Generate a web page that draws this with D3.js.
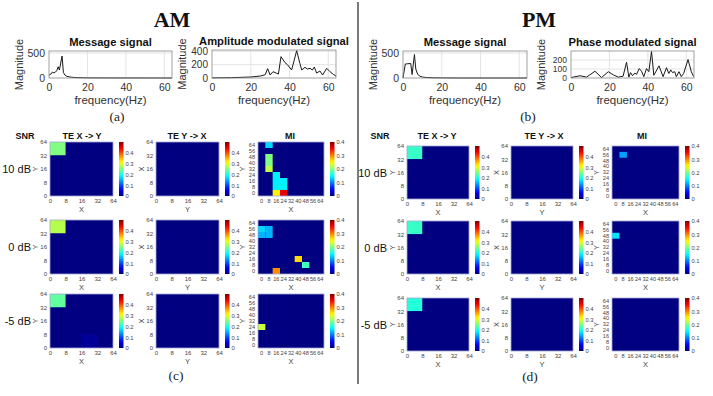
<!DOCTYPE html>
<html>
<head>
<meta charset="utf-8">
<script src="https://d3js.org/d3.v7.min.js"></script>
<style>
  body { margin: 0; background: #fff; }
  svg { display: block; font-family: "Liberation Sans", Arial, sans-serif; }
</style>
</head>
<body>
<svg id="fig" width="713" height="396"></svg>
<script>
// ---- spectra: frequency (Hz) and magnitude ----
const amMsgFreq = [0, 1, 1.8, 2.6, 3.4, 4, 4.8, 5.4, 6.8, 7.5, 8.3, 9.2, 10.5, 12.6, 15, 20, 30, 64];
const amMsgMag  = [55, 80, 120, 100, 120, 145, 225, 160, 440, 110, 60, 35, 22, 12, 7, 3, 1, 0];

const amModFreq = [0, 10, 20, 25, 27.5, 28.7, 30, 31.5, 33.4, 34.3, 35.6, 37.7, 38.9, 41.1, 43.7, 45.4, 46.3, 48, 49.2, 50.6, 51.8, 52.8, 54, 55.7, 57.1, 59.2, 60.9, 62.6, 64];
const amModMag  = [2, 5, 15, 30, 50, 140, 45, 95, 70, 60, 320, 230, 200, 120, 410, 215, 120, 160, 135, 145, 120, 165, 75, 105, 45, 145, 95, 55, 30];

const pmMsgFreq = [0, 1.2, 2.5, 4.0, 4.7, 5.9, 6.6, 7.5, 8.5, 10, 12, 15, 20, 30, 64];
const pmMsgMag  = [0, 280, 285, 290, 70, 470, 180, 80, 40, 20, 10, 5, 2, 0, 0];

const pmModFreq = [0, 4.7, 8.1, 12.5, 15.9, 19.4, 22, 24.6, 27.1, 28.9, 30.1, 31, 32, 33.2, 34.1, 35.5, 36.7, 37.9, 39.3, 40.5, 41.9, 43.1, 45.8, 47.9, 49.7, 50.9, 51.9, 52.8, 54, 54.8, 56.2, 57.4, 58.6, 60.9, 62.6, 63.8];
const pmModMag  = [5, 25, 10, 75, 5, 70, 35, 10, 20, 175, 10, 60, 25, 55, 40, 105, 75, 15, 105, 70, 295, 30, 135, 15, 115, 50, 90, 60, 70, 15, 70, 15, 50, 205, 70, 15];

const freqTicks = [0, 20, 40, 60];
const amMsgTicks = [0, 500];
const amModTicks = [0, 200, 400];
const pmMsgTicks = [0, 500];
const pmModTicks = [0, 100, 200];

const spectrumTitles = ["Message signal", "Amplitude modulated signal", "Message signal", "Phase modulated signal"];

// ---- heatmaps ----
const snrLabels = ["10 dB", "0 dB", "-5 dB"];
const heatTitles = ["TE X -> Y", "TE Y -> X", "MI"];
const teTicks = [0, 8, 16, 32, 64];
const miTicks = [0, 8, 16, 24, 32, 40, 48, 56, 64];
const cbTicks = [0, 0.1, 0.2, 0.3, 0.4];
const teMax = 0.5;
const miMax = 0.4;

// TE grids: rows top -> bottom (Y 32-64, 16-32, 8-16, 0-8), cols X 0-8 .. 32-64
const zeroTE = [[0, 0, 0, 0], [0, 0, 0, 0], [0, 0, 0, 0], [0, 0, 0, 0]];
const amTeXY = [
  [[0.25, 0, 0, 0], [0, 0, 0, 0], [0, 0, 0, 0], [0, 0, 0, 0]],
  [[0.275, 0, 0, 0], [0, 0, 0, 0], [0, 0, 0, 0], [0, 0, 0, 0]],
  [[0.235, 0, 0, 0], [0, 0, 0, 0], [0, 0, 0, 0], [0, 0, 0.012, 0]]
];
const amTeYX = [zeroTE, zeroTE, zeroTE];
const pmTeXY = [
  [[0.215, 0, 0, 0], [0, 0, 0, 0], [0, 0, 0, 0], [0, 0, 0, 0]],
  [[0.215, 0, 0, 0], [0, 0, 0, 0], [0, 0, 0, 0], [0, 0, 0, 0]],
  [[0.205, 0, 0, 0], [0, 0, 0, 0], [0, 0, 0, 0], [0, 0, 0, 0]]
];
const pmTeYX = [zeroTE, zeroTE, zeroTE];

// MI: non-zero cells as [x, y, value]
const amMi = [
  [[8, 64, 0.135], [8, 48, 0.2], [8, 40, 0.2], [8, 32, 0.225], [16, 24, 0.145], [16, 16, 0.145], [16, 8, 0.145],
   [24, 16, 0.145], [24, 8, 0.145], [16, 0, 0.255], [24, 0, 0.36]],
  [[0, 56, 0.135], [8, 56, 0.12], [0, 48, 0.12], [8, 48, 0.12], [40, 16, 0.265], [48, 8, 0.175], [16, 0, 0.295]],
  [[0, 24, 0.228]]
];
const pmMi = [
  [[8, 56, 0.113]],
  [[0, 48, 0.14]],
  []
];

// ---------------------------------------------------------------
const svg = d3.select("#fig");

function jet(t) {
  t = Math.max(0, Math.min(1, t));
  const c = v => Math.round(255 * Math.max(0, Math.min(1, v)));
  return d3.rgb(c(1.5 - Math.abs(4 * t - 3)), c(1.5 - Math.abs(4 * t - 2)), c(1.5 - Math.abs(4 * t - 1))).toString();
}

const grad = svg.append("defs").append("linearGradient")
  .attr("id", "jetGrad").attr("x1", 0).attr("y1", 1).attr("x2", 0).attr("y2", 0);
grad.selectAll("stop").data(d3.range(0, 1.0001, 0.05)).join("stop")
  .attr("offset", d => d).attr("stop-color", d => jet(d));

function styleAxis(g, size, fill) {
  g.select(".domain").remove();
  g.selectAll("text").attr("font-size", size).attr("fill", fill)
    .attr("font-family", '"Liberation Sans", Arial, sans-serif');
  g.selectAll("line").attr("stroke", "#777");
}

function spectrum(left, top, w, h, freq, mag, ymax, yTicks, title, yFont) {
  const x = d3.scaleLinear().domain([0, 64]).range([left, left + w]);
  const y = d3.scaleLinear().domain([0, ymax]).range([top + h, top]);
  const g = svg.append("g");

  g.append("g").selectAll("line").data(freqTicks.slice(1)).join("line")
    .attr("x1", d => x(d)).attr("x2", d => x(d)).attr("y1", top).attr("y2", top + h)
    .attr("stroke", "#e4e4e4");
  g.append("g").selectAll("line").data(yTicks.slice(1)).join("line")
    .attr("x1", left).attr("x2", left + w).attr("y1", d => y(d)).attr("y2", d => y(d))
    .attr("stroke", "#e4e4e4");

  g.append("path").datum(d3.zip(freq, mag))
    .attr("d", d3.line().x(d => x(d[0])).y(d => y(d[1])))
    .attr("fill", "none").attr("stroke", "#1a1a1a").attr("stroke-width", 1);

  g.append("rect").attr("x", left).attr("y", top).attr("width", w).attr("height", h)
    .attr("fill", "none").attr("stroke", "#8a8a8a").attr("stroke-width", 0.8);

  g.append("g").attr("transform", `translate(0,${top + h})`)
    .call(d3.axisBottom(x).tickValues(freqTicks).tickSize(0).tickPadding(6))
    .call(a => styleAxis(a, 10.5, "#333"));
  g.append("g").attr("transform", `translate(${left},0)`)
    .call(d3.axisLeft(y).tickValues(yTicks).tickSize(0).tickPadding(4))
    .call(a => styleAxis(a, yFont, "#333"));

  g.append("text").attr("x", left + w / 2).attr("y", top - 5)
    .attr("text-anchor", "middle").attr("font-weight", "bold").attr("font-size", 11.2)
    .attr("fill", "#111").text(title);
  g.append("text").attr("transform", `translate(${left - 26.5},${top + h / 2}) rotate(-90)`)
    .attr("text-anchor", "middle").attr("font-size", 11).attr("fill", "#333").text("Magnitude");
  g.append("text").attr("x", left + w / 2).attr("y", top + h + 26)
    .attr("text-anchor", "middle").attr("font-size", 11.5).attr("fill", "#333").text("frequency(Hz)");
}

function heatmap(left, top, w, h, kind, data, xName, yName) {
  const vmax = kind === "mi" ? miMax : teMax;
  const color = v => jet(v / vmax);
  const g = svg.append("g");
  let bx, by, cells, ax, ay;
  if (kind === "te") {
    bx = d3.scaleBand().domain(d3.range(teTicks.length - 1)).range([left, left + w]);
    by = d3.scaleBand().domain(d3.range(teTicks.length - 1)).range([top, top + h]);
    cells = data.flatMap((row, r) => row.map((v, c) => ({ x: c, y: r, v })));
    ax = d3.scalePoint().domain(teTicks).range([left, left + w]);
    ay = d3.scalePoint().domain(teTicks).range([top + h, top]);
  } else {
    bx = d3.scaleBand().domain(miTicks).range([left, left + w]);
    by = d3.scaleBand().domain(miTicks).range([top + h, top]);
    cells = data.map(([x, y, v]) => ({ x, y, v }));
    ax = bx; ay = by;
  }

  g.append("rect").attr("x", left).attr("y", top).attr("width", w).attr("height", h).attr("fill", color(0));
  g.append("g").selectAll("rect").data(cells).join("rect")
    .attr("x", d => bx(d.x)).attr("y", d => by(d.y))
    .attr("width", bx.bandwidth()).attr("height", by.bandwidth())
    .attr("fill", d => color(d.v));
  g.append("rect").attr("x", left).attr("y", top).attr("width", w).attr("height", h)
    .attr("fill", "none").attr("stroke", "#a6a6d6").attr("stroke-width", 0.8);

  const fs = kind === "mi" ? 5.6 : 6;
  g.append("g").attr("transform", `translate(0,${top + h})`)
    .call(d3.axisBottom(ax).tickSize(0).tickPadding(3))
    .call(a => styleAxis(a, fs, "#444"));
  g.append("g").attr("transform", `translate(${left},0)`)
    .call(d3.axisLeft(ay).tickSize(0).tickPadding(3))
    .call(a => styleAxis(a, fs, "#444"));

  g.append("text").attr("x", left + w / 2).attr("y", top + h + 16)
    .attr("text-anchor", "middle").attr("font-size", 7.5).attr("fill", "#444").text(xName);
  g.append("text").attr("transform", `translate(${left - (kind === "mi" ? 13.5 : 12)},${top + h / 2}) rotate(-90)`)
    .attr("text-anchor", "middle").attr("font-size", 7.5).attr("fill", "#444").text(yName);

  // colorbar
  const cx = left + w + 6;
  const cs = d3.scaleLinear().domain([0, vmax]).range([top + h, top]);
  g.append("rect").attr("x", cx).attr("y", top).attr("width", 4.5).attr("height", h).attr("fill", "url(#jetGrad)");
  g.append("g").attr("transform", `translate(${cx + 4.5},0)`)
    .call(d3.axisRight(cs).tickValues(cbTicks).tickSize(0).tickPadding(2).tickFormat(d3.format("~g")))
    .call(a => styleAxis(a, 5.8, "#444"));
}

// ---- titles and divider ----
svg.append("line").attr("x1", 358).attr("x2", 358).attr("y1", 2).attr("y2", 384)
  .attr("stroke", "#333").attr("stroke-width", 1.3);

[["AM", 172], ["PM", 539]].forEach(([t, x]) => {
  svg.append("text").attr("x", x).attr("y", 27).attr("text-anchor", "middle")
    .attr("font-family", '"Liberation Serif", "Times New Roman", serif').attr("font-weight", "bold")
    .attr("font-size", 22).attr("fill", "#111").text(t);
});

[["(a)", 117, 121], ["(b)", 528, 121], ["(c)", 176, 380], ["(d)", 530, 381]].forEach(([t, x, y]) => {
  svg.append("text").attr("x", x).attr("y", y).attr("text-anchor", "middle")
    .attr("font-family", '"Liberation Serif", "Times New Roman", serif')
    .attr("font-size", 13.5).attr("fill", "#222").text(t);
});

spectrum(49, 51, 123, 27, amMsgFreq, amMsgMag, 540, amMsgTicks, spectrumTitles[0], 10.5);
spectrum(212, 50, 124, 28, amModFreq, amModMag, 420, amModTicks, spectrumTitles[1], 10);
spectrum(403, 51, 124, 27, pmMsgFreq, pmMsgMag, 540, pmMsgTicks, spectrumTitles[2], 10.5);
spectrum(571, 51, 123, 27, pmModFreq, pmModMag, 300, pmModTicks, spectrumTitles[3], 8.5);

// ---- heatmap blocks ----
const blocks = [
  { lefts: [50, 156, 258], widths: [63, 63, 66], tops: [142, 220, 294], h: 54, head: [25, 82, 187, 290], snrX: 31,
    te1: amTeXY, te2: amTeYX, mi: amMi },
  { lefts: [407, 511, 612], widths: [62, 62, 67], tops: [146, 221, 298], h: 53, head: [380, 437, 544, 642], snrX: 387,
    te1: pmTeXY, te2: pmTeYX, mi: pmMi }
];

blocks.forEach(b => {
  ["SNR"].concat(heatTitles).forEach((t, i) => {
    svg.append("text").attr("x", b.head[i]).attr("y", 139).attr("text-anchor", "middle")
      .attr("font-weight", "bold").attr("font-size", 9).attr("fill", "#111").text(t);
  });
  b.tops.forEach((top, r) => {
    svg.append("text").attr("x", b.snrX).attr("y", top + 31).attr("text-anchor", "end")
      .attr("font-size", 11).attr("fill", "#111").text(snrLabels[r]);
    heatmap(b.lefts[0], top, b.widths[0], b.h, "te", b.te1[r], "X", "Y");
    heatmap(b.lefts[1], top, b.widths[1], b.h, "te", b.te2[r], "Y", "X");
    heatmap(b.lefts[2], top, b.widths[2], b.h, "mi", b.mi[r], "X", "Y");
  });
});
</script>
</body>
</html>
